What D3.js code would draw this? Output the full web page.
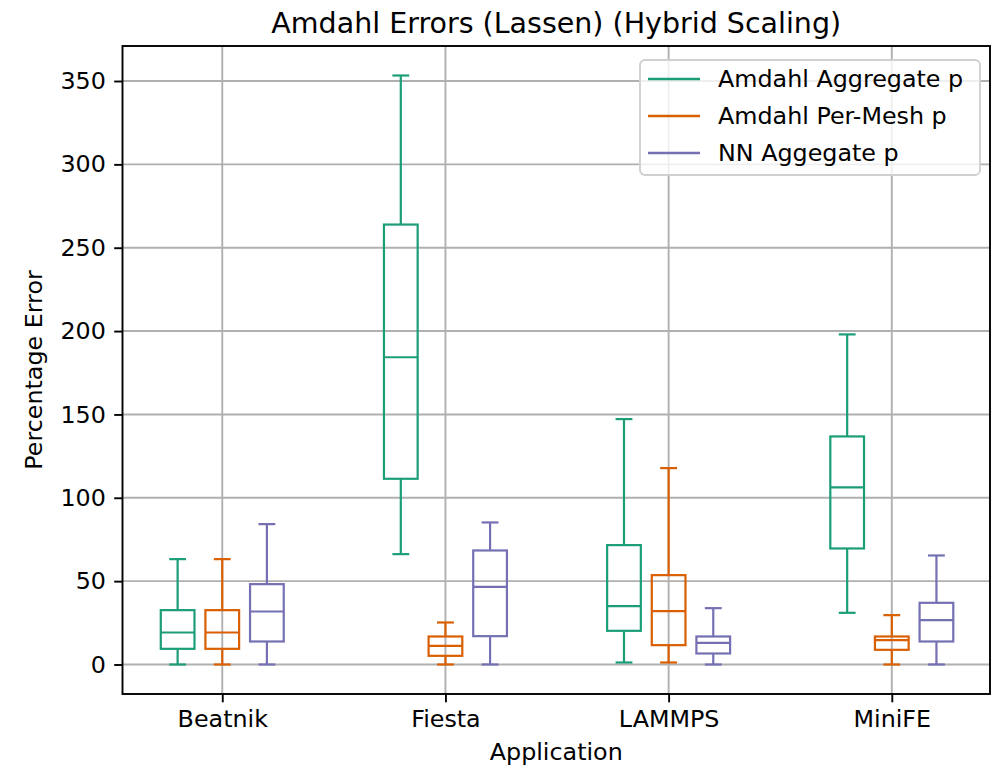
<!DOCTYPE html>
<html>
<head>
<meta charset="utf-8">
<script src="https://cdn.jsdelivr.net/npm/d3@7"></script>
<style>
  body { margin: 0; background: #fff; }
  svg text { font-family: "DejaVu Sans", sans-serif; fill: #000; }
</style>
</head>
<body>
<div id="chart"></div>
<script>
// data
var apps = ['Beatnik', 'Fiesta', 'LAMMPS', 'MiniFE'];
var seriesNames = ['Amdahl Aggregate p', 'Amdahl Per-Mesh p', 'NN Aggegate p'];
var seriesColors = ['#1b9e77', '#d95f02', '#7570b3'];
var seriesOffsets = [-0.2, 0, 0.2];
// each box: [lower whisker, q1, median, q3, upper whisker], one per app
var amdahlAggregate = [
  [0, 9.4, 19.2, 32.6, 63.2],
  [66.2, 111.4, 184.3, 263.9, 353.3],
  [1.2, 20.2, 35, 71.6, 147.2],
  [31, 69.6, 106.2, 136.8, 198]
];
var amdahlPerMesh = [
  [0, 9.4, 19.2, 32.6, 63.2],
  [0, 5.2, 11.2, 16.8, 25.2],
  [1.2, 11.6, 32, 53.6, 117.8],
  [0, 8.8, 14.6, 16.8, 29.6]
];
var nnAggregate = [
  [0, 13.8, 31.8, 48.2, 84.2],
  [0, 17, 46.6, 68.4, 85.2],
  [0, 6.6, 13, 16.8, 33.8],
  [0, 13.8, 26.6, 37, 65.4]
];
var yTicks = [0, 50, 100, 150, 200, 250, 300, 350];

var seriesData = [amdahlAggregate, amdahlPerMesh, nnAggregate];

// layout
var width = 994, height = 767;
var margin = { left: 122.5, right: 4, top: 46, bottom: 73 };
var plotW = width - margin.left - margin.right;
var plotH = height - margin.top - margin.bottom;
var boxWidth = 0.151;
var tickFont = 23.8;

var svg = d3.select('#chart').append('svg')
  .attr('width', width)
  .attr('height', height);

var x = d3.scaleLinear().domain([0.553, 4.44]).range([0, plotW]);
var y = d3.scaleLinear().domain([-17.7, 371]).range([plotH, 0]);

var g = svg.append('g')
  .attr('transform', `translate(${margin.left},${margin.top})`);

// grid
g.append('g').selectAll('line.hgrid')
  .data(yTicks).enter().append('line')
  .attr('x1', 0).attr('x2', plotW)
  .attr('y1', d => y(d)).attr('y2', d => y(d))
  .attr('stroke', '#b0b0b0').attr('stroke-width', 1.9);
g.append('g').selectAll('line.vgrid')
  .data(apps).enter().append('line')
  .attr('x1', (d, i) => x(i + 1)).attr('x2', (d, i) => x(i + 1))
  .attr('y1', 0).attr('y2', plotH)
  .attr('stroke', '#b0b0b0').attr('stroke-width', 1.9);

// boxes
seriesData.forEach(function(series, s) {
  var color = seriesColors[s];
  var grp = g.append('g').attr('class', 'series-' + s);
  var boxes = grp.selectAll('g.box')
    .data(series).enter().append('g').attr('class', 'box');
  var cx = (d, i) => x(i + 1 + seriesOffsets[s]);
  var half = x(boxWidth / 2) - x(0);
  var cap = half / 2;
  boxes.append('line') // lower whisker
    .attr('x1', cx).attr('x2', cx)
    .attr('y1', d => y(d[0])).attr('y2', d => y(d[1]));
  boxes.append('line') // upper whisker
    .attr('x1', cx).attr('x2', cx)
    .attr('y1', d => y(d[3])).attr('y2', d => y(d[4]));
  boxes.append('line') // lower cap
    .attr('x1', (d, i) => cx(d, i) - cap).attr('x2', (d, i) => cx(d, i) + cap)
    .attr('y1', d => y(d[0])).attr('y2', d => y(d[0]));
  boxes.append('line') // upper cap
    .attr('x1', (d, i) => cx(d, i) - cap).attr('x2', (d, i) => cx(d, i) + cap)
    .attr('y1', d => y(d[4])).attr('y2', d => y(d[4]));
  boxes.append('rect')
    .attr('x', (d, i) => cx(d, i) - half)
    .attr('width', half * 2)
    .attr('y', d => y(d[3]))
    .attr('height', d => y(d[1]) - y(d[3]))
    .attr('fill', 'none');
  boxes.append('line') // median
    .attr('x1', (d, i) => cx(d, i) - half).attr('x2', (d, i) => cx(d, i) + half)
    .attr('y1', d => y(d[2])).attr('y2', d => y(d[2]));
  grp.selectAll('line, rect')
    .attr('stroke', color)
    .attr('stroke-width', 2.2);
});

// axes
var yAxis = d3.axisLeft(y).tickValues(yTicks).tickSize(8.3).tickPadding(8.3);
var xAxis = d3.axisBottom(x).tickValues([1, 2, 3, 4])
  .tickFormat(d => apps[d - 1]).tickSize(8.3).tickPadding(8.3);

var gy = g.append('g').call(yAxis);
var gx = g.append('g').attr('transform', `translate(0,${plotH})`).call(xAxis);
[gx, gy].forEach(function(ax) {
  ax.select('.domain').remove();
  ax.selectAll('.tick line').attr('stroke', '#000').attr('stroke-width', 1.9);
  ax.selectAll('.tick text')
    .attr('fill', '#000')
    .style('font-size', tickFont + 'px')
    .style('font-family', '"DejaVu Sans", sans-serif');
});

// frame
g.append('rect')
  .attr('x', 0).attr('y', 0)
  .attr('width', plotW).attr('height', plotH)
  .attr('fill', 'none')
  .attr('stroke', '#000')
  .attr('stroke-width', 1.9);

// titles
svg.append('text')
  .attr('x', margin.left + plotW / 2)
  .attr('y', 33)
  .attr('text-anchor', 'middle')
  .style('font-size', '28.5px')
  .text('Amdahl Errors (Lassen) (Hybrid Scaling)');

svg.append('text')
  .attr('x', margin.left + plotW / 2)
  .attr('y', 760)
  .attr('text-anchor', 'middle')
  .style('font-size', tickFont + 'px')
  .text('Application');

svg.append('text')
  .attr('transform', `translate(42,${margin.top + plotH / 2}) rotate(-90)`)
  .attr('text-anchor', 'middle')
  .style('font-size', tickFont + 'px')
  .text('Percentage Error');

// legend
var legend = svg.append('g').attr('transform', 'translate(640,60)');
legend.append('rect')
  .attr('width', 340).attr('height', 115)
  .attr('rx', 5).attr('ry', 5)
  .attr('fill', 'rgba(255,255,255,0.8)')
  .attr('stroke', '#d0d0d0')
  .attr('stroke-width', 1.9);
var items = legend.selectAll('g.item')
  .data(seriesNames).enter().append('g')
  .attr('class', 'item')
  .attr('transform', (d, i) => `translate(0,${19 + i * 37})`);
items.append('line')
  .attr('x1', 8).attr('x2', 60)
  .attr('stroke', (d, i) => seriesColors[i])
  .attr('stroke-width', 2.4);
items.append('text')
  .attr('x', 78).attr('y', 8)
  .style('font-size', tickFont + 'px')
  .text(d => d);
</script>
</body>
</html>
